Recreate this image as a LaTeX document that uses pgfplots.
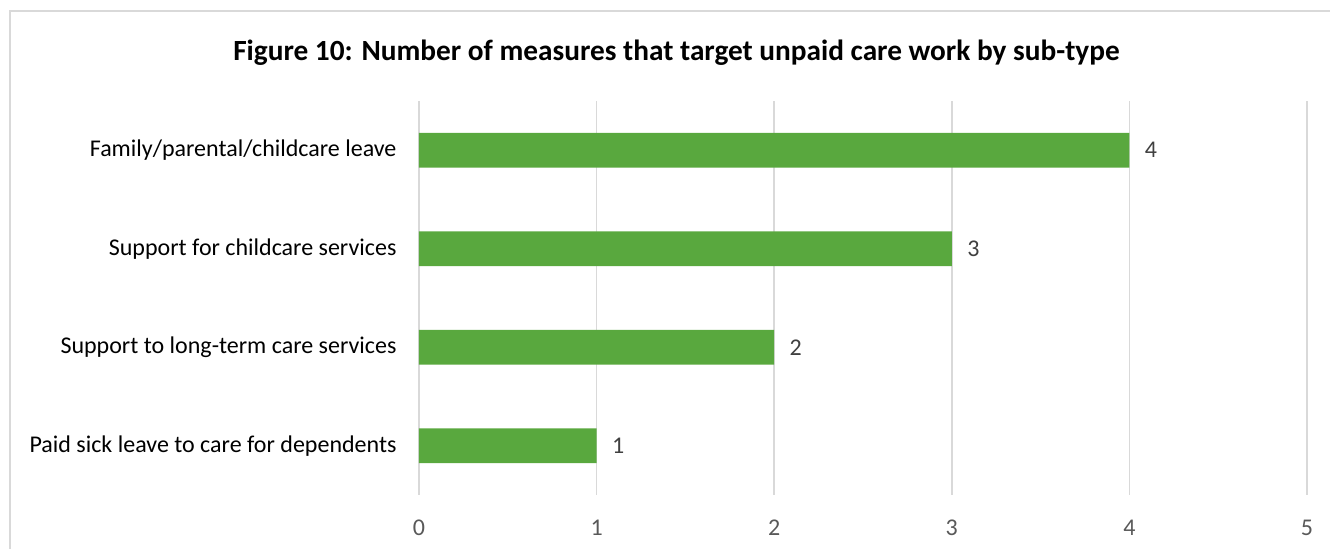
\documentclass[border=0pt]{standalone}
\usepackage{fontspec}
\setmainfont{Carlito}
\usepackage{pgfplots}
\pgfplotsset{compat=1.18}
\definecolor{bargreen}{HTML}{59A83E}
\definecolor{gridgray}{HTML}{D9D9D9}
\definecolor{ticktxt}{HTML}{595959}
\definecolor{lbltxt}{HTML}{404040}
\begin{document}
\begin{tikzpicture}
\useasboundingbox (-419bp,-54bp) rectangle (911bp,495bp);
\draw[gridgray, line width=1.5bp] (-409bp,-80bp) -- (-409bp,484bp) -- (940bp,484bp);
\node[font=\fontsize{29.3bp}{34bp}\selectfont\bfseries, anchor=base] at (257.5bp,434bp) {Figure 10: Number of measures that target unpaid care work by sub-type};
\begin{axis}[
  at={(0,0)}, anchor=south west,
  scale only axis, width=888bp, height=394bp,
  xbar, bar width=34.7bp,
  xmin=0, xmax=5, xtick={0,1,2,3,4,5},
  ymin=-0.5, ymax=3.5, y dir=reverse,
  ytick={0,1,2,3},
  yticklabels={Family/parental/childcare leave, Support for childcare services, Support to long-term care services, Paid sick leave to care for dependents},
  axis line style={draw=none},
  major tick length=0pt,
  xmajorgrids, grid style={gridgray, line width=1.5bp},
  /pgf/number format/assume math mode=true,
  xticklabel style={font=\fontsize{24bp}{28bp}\selectfont, text=ticktxt, anchor=center, yshift=-33bp},
  yticklabel style={font=\fontsize{24bp}{28bp}\selectfont, text=black, anchor=east, xshift=-19bp},
  nodes near coords,
  every node near coord/.append style={font=\fontsize{24bp}{28bp}\selectfont, text=lbltxt, anchor=west, xshift=12bp},
]
\addplot[fill=bargreen, draw=none] coordinates {(4,0) (3,1) (2,2) (1,3)};
\end{axis}
\end{tikzpicture}
\end{document}
